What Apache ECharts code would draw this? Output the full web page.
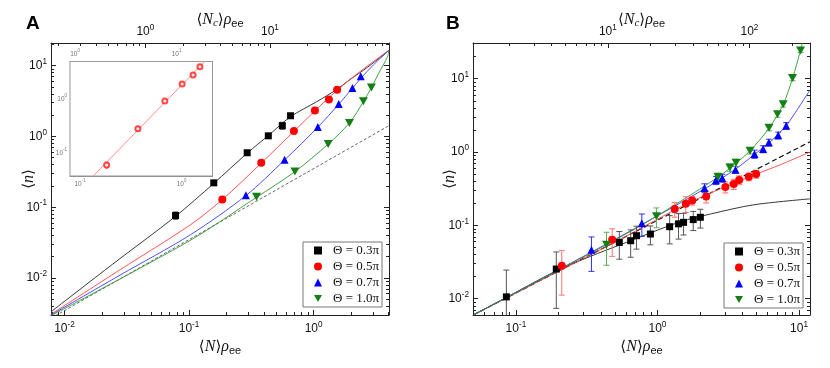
<!DOCTYPE html>
<html>
<head>
<meta charset="utf-8">
<script src="https://cdn.jsdelivr.net/npm/echarts@6/dist/echarts.min.js"></script>
<style>
  html, body { margin: 0; padding: 0; background: #fff; }
  #main { width: 830px; height: 368px; }
</style>
</head>
<body>
<div id="main"></div>
<script>
// ---------- panel A : measured points ----------
var aTheta03X = [0.078, 0.158, 0.293, 0.433, 0.561, 0.653];
var aTheta03Y = [0.0764, 0.221, 0.588, 1.02, 1.42, 1.96];
var aTheta03Err = [0.0095, 0.012, 0.03, 0.05, 0.165, 0.08];
var aTheta05X = [0.185, 0.380, 0.695, 1.025, 1.327, 1.545];
var aTheta05Y = [0.129, 0.425, 1.19, 2.32, 3.32, 4.58];
var aTheta07X = [0.286, 0.585, 1.081, 1.59, 2.05, 2.39];
var aTheta07Y = [0.147, 0.468, 1.36, 2.87, 4.84, 7.06];
var aTheta10X = [0.348, 0.708, 1.31, 1.94, 2.51, 2.91];
var aTheta10Y = [0.140, 0.320, 0.781, 1.55, 3.15, 4.93];

// panel A : theory curves
var aFit03 = [[0.0078,0.00333],[0.0244,0.0157],[0.0775,0.0738],[0.157,0.215],[0.293,0.58],[0.433,1.03],[0.653,1.9],[1.06,3.1],[1.5,4.5],[1.97,6.4],[2.69,9.4],[4.03,16.5]];
var aFit05 = [[0.0078,0.00307],[0.028,0.0131],[0.1022,0.0562],[0.185,0.128],[0.38,0.42],[0.695,1.18],[1.025,2.3],[1.545,4.5],[2.37,8.3],[4.03,16.5]];
var aFit07 = [[0.0078,0.0030],[0.028,0.011],[0.1022,0.0406],[0.286,0.146],[0.585,0.465],[1.081,1.35],[1.59,2.85],[2.05,4.8],[2.39,6.6],[3.03,10.3],[4.03,16.5]];
var aFit10 = [[0.0078,0.00293],[0.1022,0.034],[0.348,0.138],[0.708,0.318],[1.31,0.78],[1.94,1.55],[2.51,3.1],[2.91,4.9],[3.43,8.6],[3.89,13.0],[4.03,16.5]];
var aLinear = [[0.0078,0.0027],[4.03,1.42]];

// inset of panel A
var insetX = [0.183, 0.372, 0.685, 1.014, 1.30, 1.52];
var insetY = [0.0607, 0.286, 0.93, 1.94, 2.84, 4.02];
var insetErr = [0.008, 0.02, 0.04, 0.08, 0.1, 0.12];
var insetFit = [[0.135,0.038],[1.69,5.05]];

// ---------- panel B : measured points ----------
var bTheta03X = [0.0857, 0.193, 0.538, 0.647, 0.711, 0.892, 1.22, 1.41, 1.53, 1.79, 2.01];
var bTheta03Y = [0.0106, 0.0254, 0.0586, 0.0618, 0.0724, 0.0763, 0.096, 0.105, 0.110, 0.120, 0.129];
var bTheta03Err = [0.014, 0.018, 0.024, 0.025, 0.025, 0.022, 0.04, 0.04, 0.036, 0.035, 0.037];
var bTheta05X = [0.211, 0.479, 1.325, 1.585, 1.76, 2.21, 3.02, 3.46, 3.78, 4.42, 4.98];
var bTheta05Y = [0.0282, 0.0638, 0.1675, 0.198, 0.219, 0.248, 0.334, 0.367, 0.416, 0.461, 0.502];
var bTheta05Err = [0.017, 0.026, 0.038, 0.048, 0.03, 0.046, 0.057, 0.058, 0.057, 0.056, 0.062];
var bTheta07X = [0.342, 0.776, 2.15, 2.59, 2.87, 3.56, 4.85, 5.58, 6.12, 7.13, 8.12];
var bTheta07Y = [0.0466, 0.107, 0.324, 0.413, 0.442, 0.575, 0.942, 1.10, 1.355, 1.69, 2.29];
var bTheta07Err = [0.023, 0.036, 0.045, 0.053, 0.055, 0.06, 0.12, 0.12, 0.14, 0.18, 0.23];
var bTheta10X = [0.437, 0.984, 2.68, 3.25, 3.59, 4.51, 6.14, 7.05, 7.73, 9.0, 10.25];
var bTheta10Y = [0.0546, 0.133, 0.457, 0.618, 0.716, 1.044, 2.15, 3.28, 4.5, 10.2, 24.3];
var bTheta10Err = [0.026, 0.04, 0.06, 0.07, 0.08, 0.1, 0.2, 0.3, 0.4, 0.8, 1.6];

// panel B : theory curves
var bFit03 = [[0.05,0.006],[0.0857,0.0104],[0.193,0.024],[0.336,0.0378],[0.54,0.054],[1.45,0.112],[2.37,0.143],[4.79,0.191],[11.96,0.23]];
var bFit05 = [[0.05,0.006],[0.5,0.059],[1.71,0.208],[5.0,0.5],[7.4,0.673],[11.96,1.0]];
var bFit07 = [[0.05,0.006],[0.34,0.043],[0.78,0.103],[2.15,0.315],[3.56,0.585],[4.85,0.93],[6.12,1.32],[8.12,2.3],[9.71,3.78],[10.8,5.17],[11.96,7.0]];
var bFit10 = [[0.05,0.006],[0.44,0.055],[0.98,0.133],[2.68,0.455],[3.59,0.705],[4.51,1.04],[6.14,2.12],[7.73,4.45],[9.0,10.1],[10.25,24.3],[10.55,30.7]];
var bLinear = [[0.05,0.006],[11.96,1.38]];

var legendNames = ['Θ = 0.3π', 'Θ = 0.5π', 'Θ = 0.7π', 'Θ = 1.0π'];

// ---------- helpers ----------
var SANS = 'Liberation Sans, DejaVu Sans, sans-serif';
var SERIF = 'Liberation Serif, DejaVu Serif, serif';
var DOWN = 'path://M0,0L10,0L5,8.66Z';

function majors(min, max) {
    var v = [];
    for (var e = -4; e <= 4; e++) {
        var t = Math.pow(10, e);
        if (t >= min * 0.999 && t <= max * 1.001) v.push(t);
    }
    return v;
}
function minors(min, max) {
    var v = [];
    for (var e = -4; e <= 4; e++) {
        for (var k = 2; k <= 9; k++) {
            var t = k * Math.pow(10, e);
            if (t > min && t < max) v.push(t);
        }
    }
    return v;
}
function fmt(v) {
    var e = Math.round(Math.log(v) / Math.LN10);
    return '10{s|' + e + '}';
}

// one side of a frame = a major axis + a minor-tick axis
function side(grid, pos, min, max, o) {
    var col = o.color || '#222';
    var fs = o.fs || 12;
    var main = {
        type: 'log', gridIndex: grid, position: pos, min: min, max: max,
        axisLine: { show: true, onZero: false, lineStyle: { color: col, width: o.lw || 1 } },
        splitLine: { show: false },
        axisTick: { show: true, inside: true, length: o.major || 5, customValues: majors(min, max),
                    lineStyle: { color: col, width: 1 } },
        axisLabel: {
            show: !!o.labels, customValues: majors(min, max), formatter: fmt,
            margin: o.margin || 5, color: o.textColor || '#111', fontFamily: SANS,
            fontSize: fs, lineHeight: fs + 4,
            rich: { s: { fontSize: fs * 0.68, lineHeight: fs * 0.7, verticalAlign: 'top',
                         fontFamily: SANS, color: o.textColor || '#111' } }
        },
        axisPointer: { show: false }
    };
    if (o.name) {
        main.name = o.name;
        main.nameLocation = 'middle';
        main.nameGap = o.nameGap;
        main.nameMoveOverlap = false;
        main.nameTextStyle = {
            fontFamily: SANS, fontSize: 15, color: '#111', lineHeight: 18,
            rich: {
                i: { fontFamily: SERIF, fontStyle: 'italic', fontSize: 16, color: '#111' },
                c: { fontFamily: SERIF, fontStyle: 'italic', fontSize: 11, verticalAlign: 'bottom', lineHeight: 11, color: '#111' },
                b: { fontFamily: SANS, fontSize: 11, verticalAlign: 'bottom', lineHeight: 11, color: '#111' }
            }
        };
    }
    var minor = {
        type: 'log', gridIndex: grid, position: pos, min: min, max: max,
        axisLine: { show: false }, splitLine: { show: false }, axisLabel: { show: false },
        axisTick: { show: true, inside: true, length: o.minor || 3, customValues: minors(min, max),
                    lineStyle: { color: col, width: 1 } },
        axisPointer: { show: false }
    };
    return [main, minor];
}

function pts(xs, ys) {
    return xs.map(function (x, i) { return [x, ys[i]]; });
}
function bars(xs, ys, es) {
    return xs.map(function (x, i) {
        var lo = ys[i] - es[i];
        if (lo <= 0) lo = ys[i] / 100;
        return [x, lo, ys[i] + es[i]];
    });
}
function errorSeries(data, color, xi, yi, cap, z) {
    return {
        type: 'custom', xAxisIndex: xi, yAxisIndex: yi, clip: true, silent: true, z: z || 3,
        data: data,
        renderItem: function (params, api) {
            var x = api.value(0);
            var p1 = api.coord([x, api.value(2)]);
            var p2 = api.coord([x, api.value(1)]);
            var st = { stroke: color, lineWidth: 1 };
            return { type: 'group', children: [
                { type: 'line', shape: { x1: p1[0], y1: p1[1], x2: p2[0], y2: p2[1] }, style: st },
                { type: 'line', shape: { x1: p1[0] - cap, y1: p1[1], x2: p1[0] + cap, y2: p1[1] }, style: st },
                { type: 'line', shape: { x1: p2[0] - cap, y1: p2[1], x2: p2[0] + cap, y2: p2[1] }, style: st }
            ]};
        }
    };
}
function curve(data, color, xi, yi, dash, w, z) {
    return {
        type: 'line', data: data, xAxisIndex: xi, yAxisIndex: yi, showSymbol: false, symbol: 'none',
        smooth: 0.3, clip: true, silent: true, z: z || 2,
        lineStyle: { color: color, width: w || 0.9, type: dash || 'solid' }
    };
}
function marks(name, data, symbol, size, color, xi, yi) {
    return {
        type: 'scatter', name: name, data: data, xAxisIndex: xi, yAxisIndex: yi,
        symbol: symbol, symbolSize: size, clip: true, z: 4,
        itemStyle: { color: color, opacity: 1 }
    };
}

// ---------- axes ----------
var aX = [0.0078, 4.03], aY = [0.003, 20.9];
var bX = [0.0498, 11.96], bY = [0.006, 30.7];
var iX = [0.0797, 2.02], iY = [0.038, 5.05];
var topFactorA = 22.4, topFactorB = 22.4, topFactorI = 11.2;

var xAxes = [].concat(
    side(0, 'bottom', aX[0], aX[1], { labels: true, margin: 6, name: '⟨{i|N}⟩{i|ρ}{b|ee}', nameGap: 23 }),
    side(0, 'top', aX[0] * topFactorA, aX[1] * topFactorA, { labels: true, margin: 3, name: '⟨{i|N}{c|c}⟩{i|ρ}{b|ee}', nameGap: 14 }),
    side(1, 'bottom', bX[0], bX[1], { labels: true, margin: 6, name: '⟨{i|N}⟩{i|ρ}{b|ee}', nameGap: 23 }),
    side(1, 'top', bX[0] * topFactorB, bX[1] * topFactorB, { labels: true, margin: 3, name: '⟨{i|N}{c|c}⟩{i|ρ}{b|ee}', nameGap: 14 }),
    side(2, 'bottom', iX[0], iX[1], { labels: true, margin: 3, fs: 6.5, color: '#888', textColor: '#777', major: 3, minor: 2 }),
    side(2, 'top', iX[0] * topFactorI, iX[1] * topFactorI, { labels: true, margin: 2, fs: 6.5, color: '#888', textColor: '#777', major: 3, minor: 2 })
);
var yAxes = [].concat(
    side(0, 'left', aY[0], aY[1], { labels: true, margin: 4, name: '⟨{i|n}⟩', nameGap: 13 }),
    side(0, 'right', aY[0], aY[1], {}),
    side(1, 'left', bY[0], bY[1], { labels: true, margin: 4, name: '⟨{i|n}⟩', nameGap: 14 }),
    side(1, 'right', bY[0], bY[1], {}),
    side(2, 'left', iY[0], iY[1], { labels: true, margin: 3, fs: 6.5, color: '#888', textColor: '#777', major: 3, minor: 2 }),
    side(2, 'right', iY[0], iY[1], { color: '#888', major: 3, minor: 2 })
);
// axis indices: A bottom 0, B bottom 4, inset bottom 8 ; A left 0, B left 4, inset left 8
var XA = 0, XB = 4, XI = 8, YA = 0, YB = 4, YI = 8;

var myChart = echarts.init(document.getElementById('main'));

var series = [
    // panel A
    curve(aLinear, '#555', XA, YA, [3, 2], 0.9),
    curve(aFit03, '#222', XA, YA),
    curve(aFit05, '#ff4040', XA, YA),
    curve(aFit07, '#3a3aff', XA, YA),
    curve(aFit10, '#2f962f', XA, YA),
    errorSeries(bars(aTheta03X, aTheta03Y, aTheta03Err), '#666', XA, YA, 2.5),
    marks(legendNames[0], pts(aTheta03X, aTheta03Y), 'rect', 7, '#000', XA, YA),
    marks(legendNames[1], pts(aTheta05X, aTheta05Y), 'circle', 8, '#ff0000', XA, YA),
    marks(legendNames[2], pts(aTheta07X, aTheta07Y), 'triangle', 8, '#0000ff', XA, YA),
    marks(legendNames[3], pts(aTheta10X, aTheta10Y), DOWN, [9, 8], '#138013', XA, YA),
    // inset
    curve(insetFit, '#ff7a7a', XI, YI, 'solid', 0.9, 6),
    errorSeries(bars(insetX, insetY, insetErr), '#ff8a8a', XI, YI, 1.5, 6),
    {
        type: 'scatter', data: pts(insetX, insetY), xAxisIndex: XI, yAxisIndex: YI,
        symbol: 'emptyCircle', symbolSize: 5, z: 7, silent: true,
        itemStyle: { color: '#ff1a1a', borderColor: '#ff1a1a', borderWidth: 1 }
    },
    // panel B
    curve(bLinear, '#111', XB, YB, [5, 3], 1.2),
    curve(bFit03, '#222', XB, YB),
    curve(bFit05, '#ff4040', XB, YB),
    curve(bFit07, '#3a3aff', XB, YB),
    curve(bFit10, '#2f962f', XB, YB),
    errorSeries(bars(bTheta03X, bTheta03Y, bTheta03Err), '#555', XB, YB, 3),
    errorSeries(bars(bTheta05X, bTheta05Y, bTheta05Err), '#ff7070', XB, YB, 3),
    errorSeries(bars(bTheta07X, bTheta07Y, bTheta07Err), '#3030ff', XB, YB, 3),
    errorSeries(bars(bTheta10X, bTheta10Y, bTheta10Err), '#5aaa5a', XB, YB, 3),
    marks(legendNames[0], pts(bTheta03X, bTheta03Y), 'rect', 7, '#000', XB, YB),
    marks(legendNames[1], pts(bTheta05X, bTheta05Y), 'circle', 8, '#ff0000', XB, YB),
    marks(legendNames[2], pts(bTheta07X, bTheta07Y), 'triangle', 8, '#0000ff', XB, YB),
    marks(legendNames[3], pts(bTheta10X, bTheta10Y), DOWN, [9, 8], '#138013', XB, YB)
];

function legendAt(left, top) {
    return {
        orient: 'vertical', left: left, top: top, data: legendNames,
        itemWidth: 8, itemHeight: 8, itemGap: 3, padding: [2, 3, 2, 11],
        borderColor: '#777', borderWidth: 1, backgroundColor: '#fff', selectedMode: false,
        textStyle: { fontFamily: SERIF, fontSize: 13, lineHeight: 13, color: '#111', padding: [0, 0, 0, 6] }
    };
}

var option = {
    animation: false,
    backgroundColor: '#fff',
    grid: [
        { left: 51, top: 43, width: 338, height: 272, containLabel: false, outerBoundsMode: 'none' },
        { left: 473, top: 43, width: 337, height: 272, containLabel: false, outerBoundsMode: 'none' },
        { left: 70, top: 61.5, width: 142.5, height: 114.5, containLabel: false, outerBoundsMode: 'none',
          show: true, backgroundColor: '#fff', borderColor: '#999', borderWidth: 1, z: 3 }
    ],
    xAxis: xAxes,
    yAxis: yAxes,
    legend: [legendAt(303, 242), legendAt(724, 243)],
    graphic: [
        { type: 'text', left: 26, top: 14, style: { text: 'A', font: 'bold 19px Liberation Sans', fill: '#000' } },
        { type: 'text', left: 446, top: 14, style: { text: 'B', font: 'bold 19px Liberation Sans', fill: '#000' } }
    ],
    series: series
};
myChart.setOption(option);
</script>
</body>
</html>
